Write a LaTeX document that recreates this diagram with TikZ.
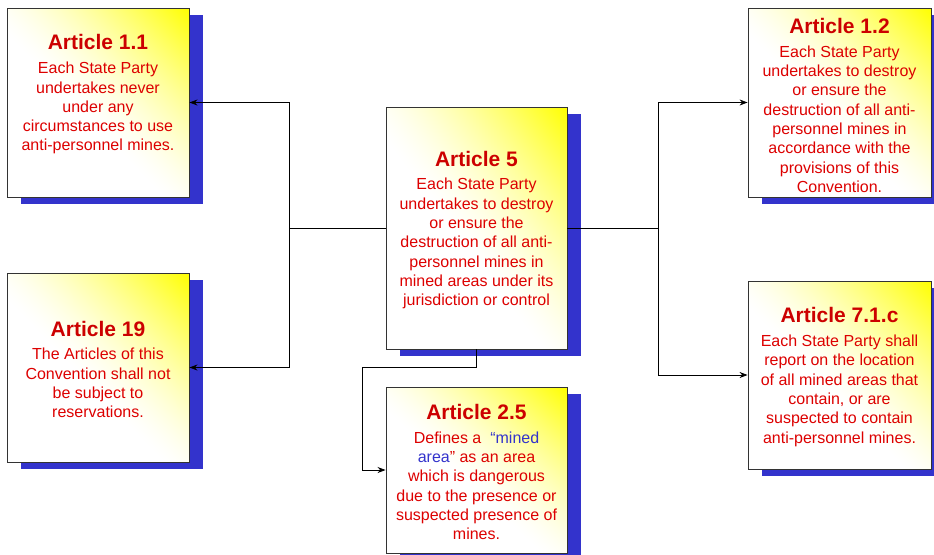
\documentclass[tikz,border=0pt]{standalone}
\usepackage{fontspec}
\setmainfont{Liberation Sans}
\usetikzlibrary{arrows.meta,backgrounds,calc}
\definecolor{titlered}{RGB}{204,0,0}
\definecolor{bodyred}{RGB}{221,0,0}
\definecolor{shadowblue}{RGB}{51,51,204}
\definecolor{textblue}{RGB}{51,51,204}
\definecolor{edgegray}{RGB}{51,51,51}
\pgfdeclarefunctionalshading{corneryellow}{\pgfpoint{0bp}{0bp}}{\pgfpoint{100bp}{100bp}}{}{add 92.5 sub 57.5 div dup abs add 2 div dup 1 sub abs sub 1 add 2 div 1.5 exp 1 exch sub 1 1 3 -1 roll}
\newcommand{\arttitle}[1]{{\fontsize{21}{25}\selectfont\bfseries\color{titlered}#1}}
\begin{document}
\begin{tikzpicture}[x=1pt,y=-1pt,
  artbox/.style={draw=edgegray, line width=0.9pt, shade, shading=corneryellow, inner sep=0pt},
  arttext/.style={align=center, text=bodyred, font=\fontsize{16}{19.3}\selectfont, inner sep=0pt},
  conn/.style={draw=black, line width=0.8pt},
  arr/.style={conn, -{Stealth[length=8pt,width=6pt]}}]
\useasboundingbox (0,0) rectangle (934,554);

\node[artbox, minimum width=182pt, minimum height=189pt] (A11) at (98,102.5) {};
\node[artbox, minimum width=182pt, minimum height=189pt] (A19) at (98,367.5) {};
\node[artbox, minimum width=181pt, minimum height=242pt] (A5) at (476.5,228) {};
\node[artbox, minimum width=181pt, minimum height=166pt] (A25) at (476.5,470) {};
\node[artbox, minimum width=183pt, minimum height=189pt] (A12) at (839.5,102.5) {};
\node[artbox, minimum width=183pt, minimum height=188pt] (A71) at (839.5,375) {};

\begin{scope}[on background layer]
\foreach \n in {A11,A19,A5,A25,A12,A71}
  \fill[shadowblue] ($(\n.south west)+(14,7)$) rectangle ($(\n.north east)+(14,7)$);
\end{scope}

\node[arttext] (T11) at ($(A11)+(0,-8)$) {\arttitle{Article 1.1}\\[4.5pt]Each State Party\\undertakes never\\under any\\circumstances to use\\anti-personnel mines.};
\node[arttext] (T19) at ($(A19)+(0,2)$) {\arttitle{Article 19}\\[4.5pt]The Articles of this\\Convention shall not\\be subject to\\reservations.};
\node[arttext] (T5) at ($(A5)+(0,2)$) {\arttitle{Article 5}\\[4.5pt]Each State Party\\undertakes to destroy\\or ensure the\\destruction of all anti-\\personnel mines in\\mined areas under its\\jurisdiction or control};
\node[arttext] (T25) at ($(A25)+(0,2)$) {\arttitle{Article 2.5}\\[4.5pt]Defines a\ \ \textcolor{textblue}{“mined}\\\textcolor{textblue}{area}” as an area\\which is dangerous\\due to the presence or\\suspected presence of\\mines.};
\node[arttext] (T12) at ($(A12)+(0,3)$) {\arttitle{Article 1.2}\\[4.5pt]Each State Party\\undertakes to destroy\\or ensure the\\destruction of all anti-\\personnel mines in\\accordance with the\\provisions of this\\Convention.};
\node[arttext] (T71) at ($(A71)+(0,2)$) {\arttitle{Article 7.1.c}\\[4.5pt]Each State Party shall\\report on the location\\of all mined areas that\\contain, or are\\suspected to contain\\anti-personnel mines.};

\coordinate (jl) at (289,228);
\coordinate (jr) at (658,228);
\coordinate (jb) at (362,367);
\draw[conn] (A5.west) -- (jl);
\draw[arr] (jl) |- (A11.east);
\draw[arr] (jl) |- (A19.east);
\draw[conn] (A5.east) -- (jr);
\draw[arr] (jr) |- (A12.west);
\draw[arr] (jr) |- (A71.west);
\draw[arr] (A5.south) |- (jb) |- (A25.west);
\end{tikzpicture}
\end{document}
